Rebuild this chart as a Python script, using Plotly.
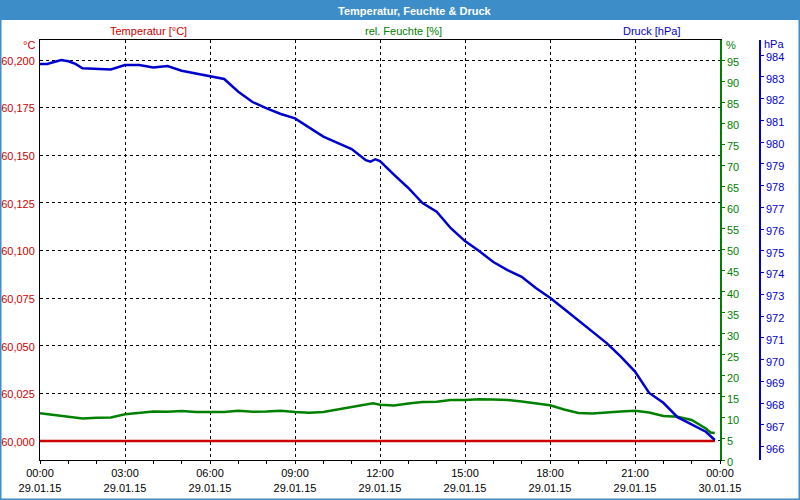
import plotly.graph_objects as go

DAY = "2015-01-29 "

# Luftdruck [hPa]
p_times = ["00:00", "00:15", "00:30", "00:45", "01:00", "01:15", "01:30", "02:00", "02:30",
           "03:00", "03:30", "04:00", "04:30", "05:00", "05:30", "06:00", "06:30", "07:00",
           "07:30", "08:00", "08:30", "09:00", "09:30", "10:00", "10:30", "11:00", "11:30",
           "11:40", "11:50", "12:00", "12:30", "13:00", "13:30", "14:00", "14:30", "15:00",
           "15:30", "16:00", "16:30", "17:00", "17:30", "18:00", "18:30", "19:00", "19:30",
           "20:00", "20:30", "21:00", "21:30", "22:00", "22:30", "23:00", "23:30", "23:49"]
p_values = [983.59, 983.59, 983.68, 983.77, 983.71, 983.59, 983.39, 983.36, 983.34,
            983.54, 983.54, 983.43, 983.49, 983.28, 983.16, 983.03, 982.90, 982.31,
            981.84, 981.55, 981.29, 981.09, 980.65, 980.25, 979.96, 979.68, 979.17,
            979.10, 979.21, 979.13, 978.49, 977.89, 977.20, 976.80, 976.04, 975.45,
            974.99, 974.49, 974.12, 973.81, 973.29, 972.85, 972.33, 971.82, 971.27,
            970.76, 970.14, 969.45, 968.47, 968.02, 967.36, 967.04, 966.69, 966.31]

# rel. Feuchte [%]
h_times = ["00:00", "00:30", "01:00", "01:30", "02:00", "02:30", "03:00", "03:30", "04:00",
           "04:30", "05:00", "05:30", "06:00", "06:30", "07:00", "07:30", "08:00", "08:30",
           "09:00", "09:30", "10:00", "10:30", "11:00", "11:30", "11:45", "12:00", "12:30",
           "13:00", "13:30", "14:00", "14:30", "15:00", "15:30", "16:00", "16:30", "17:00",
           "17:30", "18:00", "18:30", "19:00", "19:30", "20:00", "20:30", "21:00", "21:30",
           "22:00", "22:30", "23:00", "23:30", "23:40", "23:49"]
h_values = [11.10, 10.69, 10.34, 9.86, 10.05, 10.10, 10.86, 11.24, 11.52,
            11.48, 11.64, 11.41, 11.41, 11.41, 11.72, 11.48, 11.52, 11.69,
            11.41, 11.24, 11.41, 11.95, 12.52, 13.19, 13.47, 13.14, 12.95,
            13.43, 13.78, 13.85, 14.26, 14.26, 14.45, 14.38, 14.26, 13.90,
            13.54, 13.00, 12.00, 11.17, 11.05, 11.36, 11.52, 11.69, 11.29,
            10.46, 10.27, 9.50, 7.49, 6.53, 6.42]

# Temperatur [°C]
t_times = ["00:00", "23:49"]
t_values = [60.000, 60.000]

RED = "#cc0000"
GREEN = "#008000"
BLUE = "#0000cc"
BAR = "#3d8ec8"
FONT = "Liberation Sans"

def ts(lst):
    return [DAY + t for t in lst]

fig = go.Figure()
fig.add_trace(go.Scatter(x=ts(t_times), y=t_values, mode="lines", yaxis="y",
                         line=dict(color=RED, width=2.5)))
fig.add_trace(go.Scatter(x=ts(h_times), y=h_values, mode="lines", yaxis="y2",
                         line=dict(color=GREEN, width=2.5)))
fig.add_trace(go.Scatter(x=ts(p_times), y=p_values, mode="lines", yaxis="y3",
                         line=dict(color=BLUE, width=2.5)))

W, L, T, H = 720, 40, 40, 420
def px(x):
    return (x - L) / W
def py(y):
    return (T + H - y) / H

fig.update_layout(
    width=800, height=500,
    margin=dict(l=40, r=40, t=40, b=40, autoexpand=False),
    paper_bgcolor="white", plot_bgcolor="white",
    showlegend=False,
    separators=",.",
    font=dict(family=FONT, size=11, color="black"),
    xaxis=dict(
        type="date", domain=[0, 680 / 720], automargin=False,
        range=["2015-01-29 00:00", "2015-01-30 00:00"],
        dtick=3 * 3600000, tick0="2015-01-29 00:00",
        tickformat="%H:%M<br>%d.%m.%y",
        ticks="outside", ticklen=3, tickcolor="black",
        minor=dict(dtick=3600000, ticks="outside", ticklen=3, tickcolor="black", showgrid=False),
        showgrid=True, gridcolor="black", griddash="3px,3px", gridwidth=1,
        showline=True, linecolor="black", linewidth=1, mirror=True,
        zeroline=False, tickfont=dict(color="black", size=11, family=FONT),
    ),
    yaxis=dict(
        range=[59.990, 60.2105], dtick=0.025, tick0=60.0, tickformat=".3f",
        automargin=False,
        showgrid=True, gridcolor="black", griddash="3px,3px", gridwidth=1,
        showline=True, linecolor="black", linewidth=1, ticks="",
        zeroline=False, tickfont=dict(color=RED, size=11, family=FONT),
        ticklabelstandoff=2, ticklabelshift=1,
    ),
    yaxis2=dict(
        overlaying="y", side="right", anchor="x", automargin=False,
        range=[0, 99.8], dtick=5, tick0=0,
        showgrid=False, zeroline=False,
        showline=True, linecolor=GREEN, linewidth=1.5,
        ticks="outside", ticklen=3, tickcolor=GREEN,
        tickfont=dict(color=GREEN, size=11, family=FONT),
        ticklabelshift=2,
    ),
    yaxis3=dict(
        overlaying="y", side="right", anchor="free", position=1.0, automargin=False,
        range=[965.39, 984.69], dtick=1, tick0=966,
        showgrid=False, zeroline=False,
        showline=True, linecolor=BLUE, linewidth=1.5,
        ticks="outside", ticklen=3, tickcolor=BLUE,
        tickfont=dict(color=BLUE, size=11, family=FONT),
        ticklabelshift=2,
    ),
)

shapes = [
    dict(type="rect", xref="paper", yref="paper", x0=px(-5), x1=px(805), y0=py(20), y1=py(-5),
         fillcolor=BAR, line=dict(width=0), layer="above"),
    dict(type="rect", xref="paper", yref="paper", x0=px(0), x1=px(800), y0=py(500), y1=py(0),
         fillcolor="rgba(0,0,0,0)", line=dict(color=BAR, width=3), layer="above"),
]
fig.update_layout(shapes=shapes)

ann = [
    dict(text="<b>Temperatur, Feuchte & Druck</b>", x=px(414), y=py(10.5), xanchor="center",
         yanchor="middle", font=dict(color="white", size=11, family=FONT)),
    dict(text="Temperatur [°C]", x=px(148), y=py(31), xanchor="center", yanchor="middle",
         font=dict(color=RED, size=11, family=FONT)),
    dict(text="rel. Feuchte [%]", x=px(403), y=py(31), xanchor="center", yanchor="middle",
         font=dict(color=GREEN, size=11, family=FONT)),
    dict(text="Druck [hPa]", x=px(651), y=py(31), xanchor="center", yanchor="middle",
         font=dict(color=BLUE, size=11, family=FONT)),
    dict(text="°C", x=px(37), y=py(45), xanchor="right", yanchor="middle",
         font=dict(color=RED, size=11, family=FONT)),
    dict(text="%", x=px(724), y=py(45), xanchor="left", yanchor="middle",
         font=dict(color=GREEN, size=11, family=FONT)),
    dict(text="hPa", x=px(762), y=py(44), xanchor="left", yanchor="middle",
         font=dict(color=BLUE, size=11, family=FONT)),
]
for a in ann:
    a.update(xref="paper", yref="paper", showarrow=False)
fig.update_layout(annotations=ann)

fig.write_html("out.html")
